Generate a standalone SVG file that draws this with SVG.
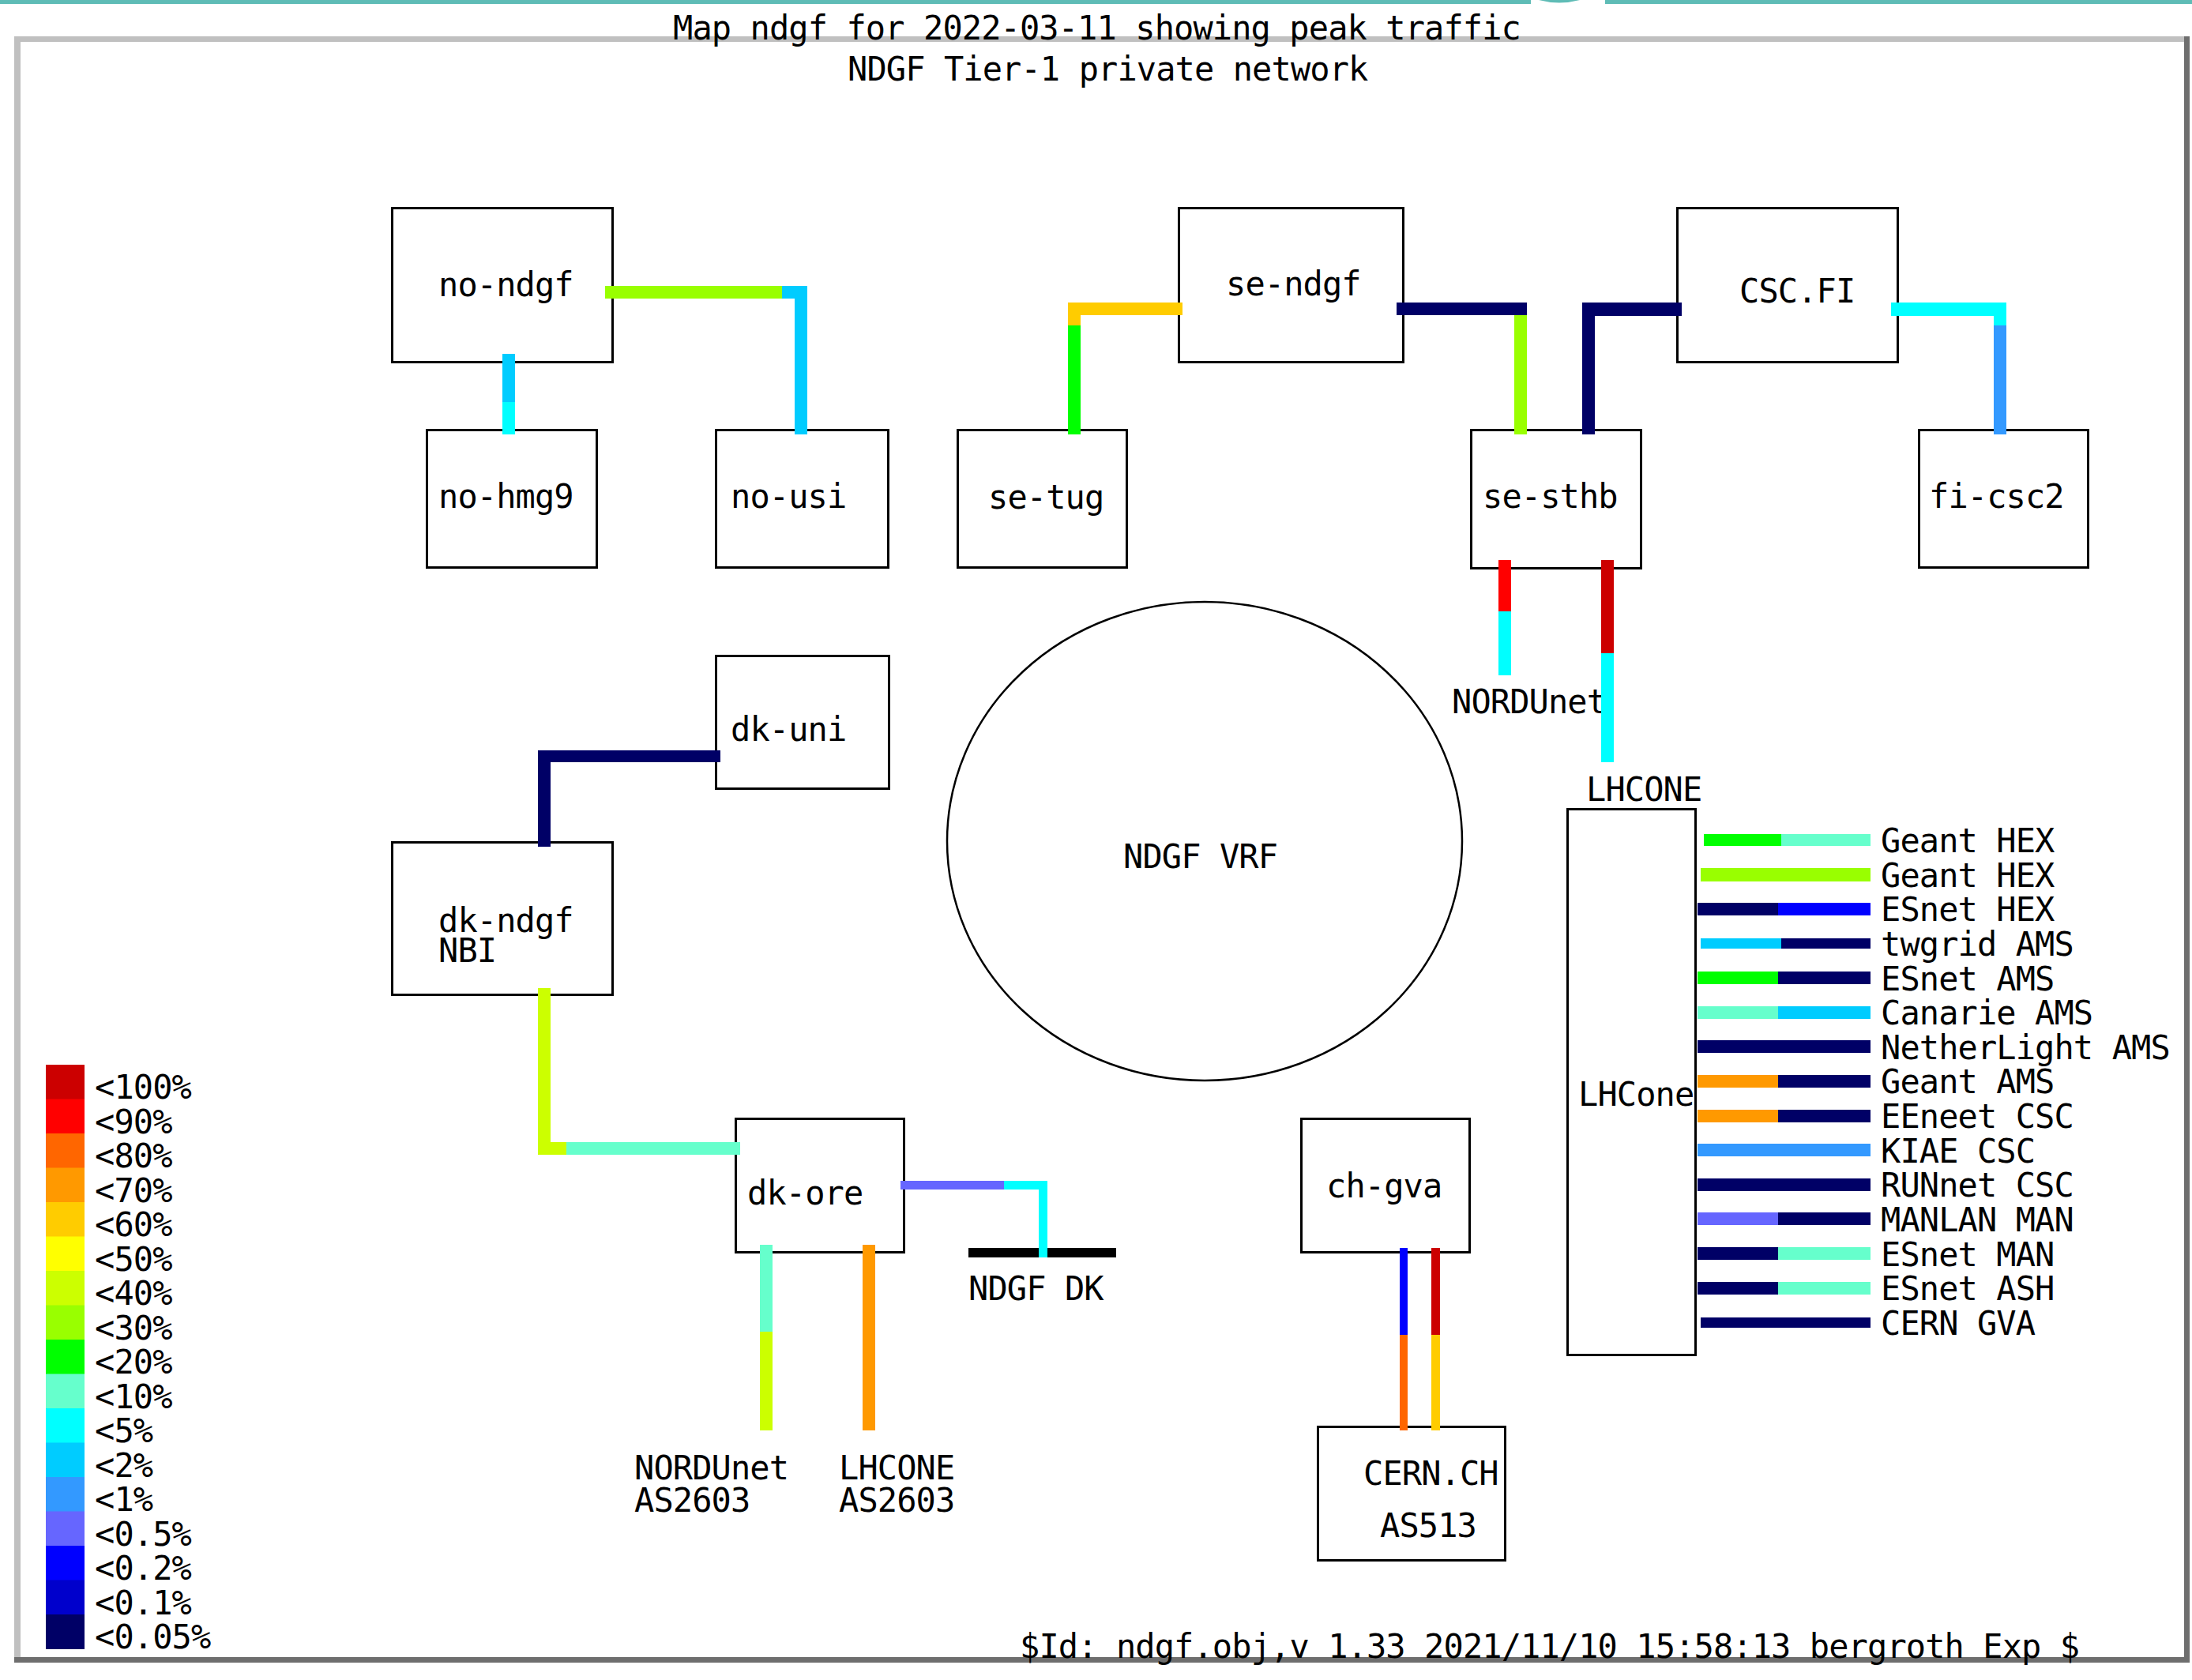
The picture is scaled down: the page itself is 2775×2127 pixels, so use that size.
<svg xmlns="http://www.w3.org/2000/svg" width="2775" height="2127" viewBox="0 0 2775 2127">
<style>
.box{fill:#fff;stroke:#000;stroke-width:3}
.t{font-family:"DejaVu Sans Mono","Liberation Mono",monospace;font-size:42px;letter-spacing:-0.9px;fill:#000}
.c100{fill:#cc0000}.c90{fill:#ff0000}.c80{fill:#ff6600}.c70{fill:#ff9900}.c60{fill:#ffcc00}.c50{fill:#ffff00}
.c40{fill:#ccff00}.c30{fill:#99ff00}.c20{fill:#00ff00}.c10{fill:#66ffcc}.c5{fill:#00ffff}.c2{fill:#00ccff}
.c1{fill:#3399ff}.c05{fill:#6666ff}.c02{fill:#0000ff}.c01{fill:#0000cc}.c005{fill:#000066}
.lt{fill:#c0c0c0}.dk{fill:#6e6e6e}.teal{fill:#5fbcb6}
</style>
<rect x="0" y="0" width="2775" height="2127" fill="#fff"/>
<g id="page-header">
<rect class="teal" x="0" y="0" width="1938" height="5"/>
<rect class="teal" x="2032" y="0" width="743" height="5"/>
<path class="teal" d="M1948 0 Q1974 7 2000 0 Z"/>
</g>
<g id="frame">
<rect class="lt" x="18" y="46" width="2754" height="7"/>
<rect class="lt" x="18" y="46" width="8" height="2059"/>
<rect class="dk" x="18" y="2098" width="2754" height="7"/>
<rect class="dk" x="2765" y="46" width="7" height="2059"/>
</g>
<g id="titles">
<text class="t" x="852" y="50">Map ndgf for 2022-03-11 showing peak traffic</text>
<text class="t" x="1073" y="102">NDGF Tier-1 private network</text>
<text class="t" x="1291" y="2099">$Id: ndgf.obj,v 1.33 2021/11/10 15:58:13 bergroth Exp $</text>
</g>
<g id="node-ndgf-vrf">
<ellipse cx="1525" cy="1065" rx="326" ry="303" fill="none" stroke="#000" stroke-width="2.5"/>
<text class="t" x="1422" y="1099">NDGF VRF</text>
</g>
<g id="node-no-ndgf"><rect class="box" x="496.5" y="263.5" width="279" height="195"/><text class="t" x="555" y="375">no-ndgf</text></g>
<g id="node-no-hmg9"><rect class="box" x="540.5" y="544.5" width="215" height="174"/><text class="t" x="555" y="643">no-hmg9</text></g>
<g id="node-no-usi"><rect class="box" x="906.5" y="544.5" width="218" height="174"/><text class="t" x="925" y="643">no-usi</text></g>
<g id="node-se-ndgf"><rect class="box" x="1492.5" y="263.5" width="284" height="195"/><text class="t" x="1552" y="374">se-ndgf</text></g>
<g id="node-se-tug"><rect class="box" x="1212.5" y="544.5" width="214" height="174"/><text class="t" x="1251" y="644">se-tug</text></g>
<g id="node-se-sthb"><rect class="box" x="1862.5" y="544.5" width="215" height="175"/><text class="t" x="1877" y="643">se-sthb</text></g>
<g id="node-csc-fi"><rect class="box" x="2123.5" y="263.5" width="279" height="195"/><text class="t" x="2202" y="383">CSC.FI</text></g>
<g id="node-fi-csc2"><rect class="box" x="2429.5" y="544.5" width="214" height="174"/><text class="t" x="2442" y="643">fi-csc2</text></g>
<g id="node-dk-uni"><rect class="box" x="906.5" y="830.5" width="219" height="168"/><text class="t" x="925" y="938">dk-uni</text></g>
<g id="node-dk-ndgf"><rect class="box" x="496.5" y="1066.5" width="279" height="193"/><text class="t" x="555" y="1180">dk-ndgf</text><text class="t" x="555" y="1218">NBI</text></g>
<g id="node-dk-ore"><rect class="box" x="931.5" y="1416.5" width="213" height="169"/><text class="t" x="946" y="1525">dk-ore</text></g>
<g id="node-ch-gva"><rect class="box" x="1647.5" y="1416.5" width="213" height="169"/><text class="t" x="1679" y="1516">ch-gva</text></g>
<g id="node-cern-ch"><rect class="box" x="1668.5" y="1806.5" width="237" height="169"/><text class="t" x="1726" y="1880">CERN.CH</text><text class="t" x="1747" y="1946">AS513</text></g>
<g id="node-lhcone-box"><rect class="box" x="1984.5" y="1024.5" width="162" height="691"/><text class="t" x="1998" y="1400">LHCone</text></g>
<g id="node-nordunet-top"><text class="t" x="1838" y="903">NORDUnet</text></g>
<g id="node-lhcone-top"><text class="t" x="2008" y="1014">LHCONE</text></g>
<g id="node-ndgf-dk"><rect x="1226" y="1580" width="187" height="12" fill="#000"/><text class="t" x="1226" y="1646">NDGF DK</text></g>
<g id="node-nordunet-as"><text class="t" x="803" y="1873">NORDUnet</text><text class="t" x="803" y="1914">AS2603</text></g>
<g id="node-lhcone-as"><text class="t" x="1062" y="1873">LHCONE</text><text class="t" x="1062" y="1914">AS2603</text></g>
<g id="connectors">
<!-- no-ndgf to no-usi -->
<rect class="c30" x="766" y="362" width="224" height="16"/>
<rect class="c2" x="990" y="362" width="32" height="16"/>
<rect class="c2" x="1006" y="362" width="16" height="188"/>
<!-- no-ndgf to no-hmg9 -->
<rect class="c2" x="636" y="448" width="16" height="61"/>
<rect class="c5" x="636" y="509" width="16" height="41"/>
<!-- se-ndgf to se-tug -->
<rect class="c60" x="1352" y="383" width="145" height="16"/>
<rect class="c60" x="1352" y="383" width="16" height="29"/>
<rect class="c20" x="1352" y="412" width="16" height="138"/>
<!-- se-ndgf to se-sthb -->
<rect class="c005" x="1768" y="383" width="165" height="16"/>
<rect class="c30" x="1917" y="399" width="16" height="151"/>
<!-- CSC.FI to se-sthb -->
<rect class="c005" x="2003" y="383" width="126" height="17"/>
<rect class="c005" x="2003" y="383" width="16" height="167"/>
<!-- CSC.FI to fi-csc2 -->
<rect class="c5" x="2394" y="383" width="146" height="17"/>
<rect class="c5" x="2524" y="383" width="16" height="29"/>
<rect class="c1" x="2524" y="412" width="16" height="138"/>
<!-- se-sthb to NORDUnet -->
<rect class="c90" x="1897" y="709" width="16" height="65"/>
<rect class="c5" x="1897" y="774" width="16" height="81"/>
<!-- se-sthb to LHCONE -->
<rect class="c100" x="2027" y="709" width="16" height="118"/>
<rect class="c5" x="2027" y="827" width="16" height="138"/>
<!-- dk-uni to dk-ndgf -->
<rect class="c005" x="681" y="950" width="231" height="15"/>
<rect class="c005" x="681" y="950" width="16" height="122"/>
<!-- dk-ndgf to dk-ore -->
<rect class="c40" x="681" y="1251" width="16" height="211"/>
<rect class="c40" x="681" y="1446" width="36" height="16"/>
<rect class="c10" x="717" y="1446" width="220" height="16"/>
<!-- dk-ore to NDGF DK -->
<rect class="c05" x="1140" y="1495" width="131" height="11"/>
<rect class="c5" x="1271" y="1495" width="55" height="11"/>
<rect class="c5" x="1315" y="1495" width="11" height="97"/>
<!-- dk-ore to NORDUnet AS2603 -->
<rect class="c10" x="962" y="1576" width="16" height="110"/>
<rect class="c40" x="962" y="1686" width="16" height="125"/>
<!-- dk-ore to LHCONE AS2603 -->
<rect class="c70" x="1092" y="1576" width="16" height="235"/>
<!-- ch-gva to CERN.CH -->
<rect class="c02" x="1772" y="1580" width="10" height="110"/>
<rect class="c80" x="1772" y="1690" width="10" height="121"/>
<rect class="c100" x="1812" y="1580" width="11" height="110"/>
<rect class="c60" x="1812" y="1690" width="11" height="121"/>
<!-- LHCone peers -->
<rect class="c20" x="2157" y="1056" width="98" height="15"/><rect class="c10" x="2255" y="1056" width="113" height="15"/>
<rect class="c30" x="2153" y="1099" width="215" height="17"/>
<rect class="c005" x="2149" y="1143" width="102" height="16"/><rect class="c02" x="2251" y="1143" width="117" height="16"/>
<rect class="c2" x="2153" y="1188" width="102" height="13"/><rect class="c005" x="2255" y="1188" width="113" height="13"/>
<rect class="c20" x="2149" y="1230" width="102" height="16"/><rect class="c005" x="2251" y="1230" width="117" height="16"/>
<rect class="c10" x="2149" y="1274" width="102" height="16"/><rect class="c2" x="2251" y="1274" width="117" height="16"/>
<rect class="c005" x="2149" y="1317" width="219" height="16"/>
<rect class="c70" x="2149" y="1361" width="102" height="16"/><rect class="c005" x="2251" y="1361" width="117" height="16"/>
<rect class="c70" x="2149" y="1405" width="102" height="16"/><rect class="c005" x="2251" y="1405" width="117" height="16"/>
<rect class="c1" x="2149" y="1448" width="219" height="16"/>
<rect class="c005" x="2149" y="1492" width="219" height="16"/>
<rect class="c05" x="2149" y="1535" width="102" height="16"/><rect class="c005" x="2251" y="1535" width="117" height="16"/>
<rect class="c005" x="2149" y="1579" width="102" height="16"/><rect class="c10" x="2251" y="1579" width="117" height="16"/>
<rect class="c005" x="2149" y="1623" width="102" height="16"/><rect class="c10" x="2251" y="1623" width="117" height="16"/>
<rect class="c005" x="2153" y="1668" width="215" height="13"/>
</g>
<g id="lhcone-peer-labels">
<text class="t" x="2381" y="1079">Geant HEX</text>
<text class="t" x="2381" y="1123">Geant HEX</text>
<text class="t" x="2381" y="1166">ESnet HEX</text>
<text class="t" x="2381" y="1210">twgrid AMS</text>
<text class="t" x="2381" y="1254">ESnet AMS</text>
<text class="t" x="2381" y="1297">Canarie AMS</text>
<text class="t" x="2381" y="1341">NetherLight AMS</text>
<text class="t" x="2381" y="1384">Geant AMS</text>
<text class="t" x="2381" y="1428">EEneet CSC</text>
<text class="t" x="2381" y="1472">KIAE CSC</text>
<text class="t" x="2381" y="1515">RUNnet CSC</text>
<text class="t" x="2381" y="1559">MANLAN MAN</text>
<text class="t" x="2381" y="1603">ESnet MAN</text>
<text class="t" x="2381" y="1646">ESnet ASH</text>
<text class="t" x="2381" y="1690">CERN GVA</text>
</g>
<g id="legend">
<rect class="c100" x="58" y="1348" width="49" height="44"/>
<rect class="c90" x="58" y="1391.5" width="49" height="44"/>
<rect class="c80" x="58" y="1435" width="49" height="44"/>
<rect class="c70" x="58" y="1478.5" width="49" height="44"/>
<rect class="c60" x="58" y="1522" width="49" height="44"/>
<rect class="c50" x="58" y="1565.5" width="49" height="44"/>
<rect class="c40" x="58" y="1609" width="49" height="44"/>
<rect class="c30" x="58" y="1652.5" width="49" height="44"/>
<rect class="c20" x="58" y="1696" width="49" height="44"/>
<rect class="c10" x="58" y="1739.5" width="49" height="44"/>
<rect class="c5" x="58" y="1783" width="49" height="44"/>
<rect class="c2" x="58" y="1826.5" width="49" height="44"/>
<rect class="c1" x="58" y="1870" width="49" height="44"/>
<rect class="c05" x="58" y="1913.5" width="49" height="44"/>
<rect class="c02" x="58" y="1957" width="49" height="44"/>
<rect class="c01" x="58" y="2000.5" width="49" height="44"/>
<rect class="c005" x="58" y="2044" width="49" height="44"/>
<text class="t" x="120" y="1391">&lt;100%</text>
<text class="t" x="120" y="1434.5">&lt;90%</text>
<text class="t" x="120" y="1478">&lt;80%</text>
<text class="t" x="120" y="1521.5">&lt;70%</text>
<text class="t" x="120" y="1565">&lt;60%</text>
<text class="t" x="120" y="1608.5">&lt;50%</text>
<text class="t" x="120" y="1652">&lt;40%</text>
<text class="t" x="120" y="1695.5">&lt;30%</text>
<text class="t" x="120" y="1739">&lt;20%</text>
<text class="t" x="120" y="1782.5">&lt;10%</text>
<text class="t" x="120" y="1826">&lt;5%</text>
<text class="t" x="120" y="1869.5">&lt;2%</text>
<text class="t" x="120" y="1913">&lt;1%</text>
<text class="t" x="120" y="1956.5">&lt;0.5%</text>
<text class="t" x="120" y="2000">&lt;0.2%</text>
<text class="t" x="120" y="2043.5">&lt;0.1%</text>
<text class="t" x="120" y="2087">&lt;0.05%</text>
</g>
</svg>
